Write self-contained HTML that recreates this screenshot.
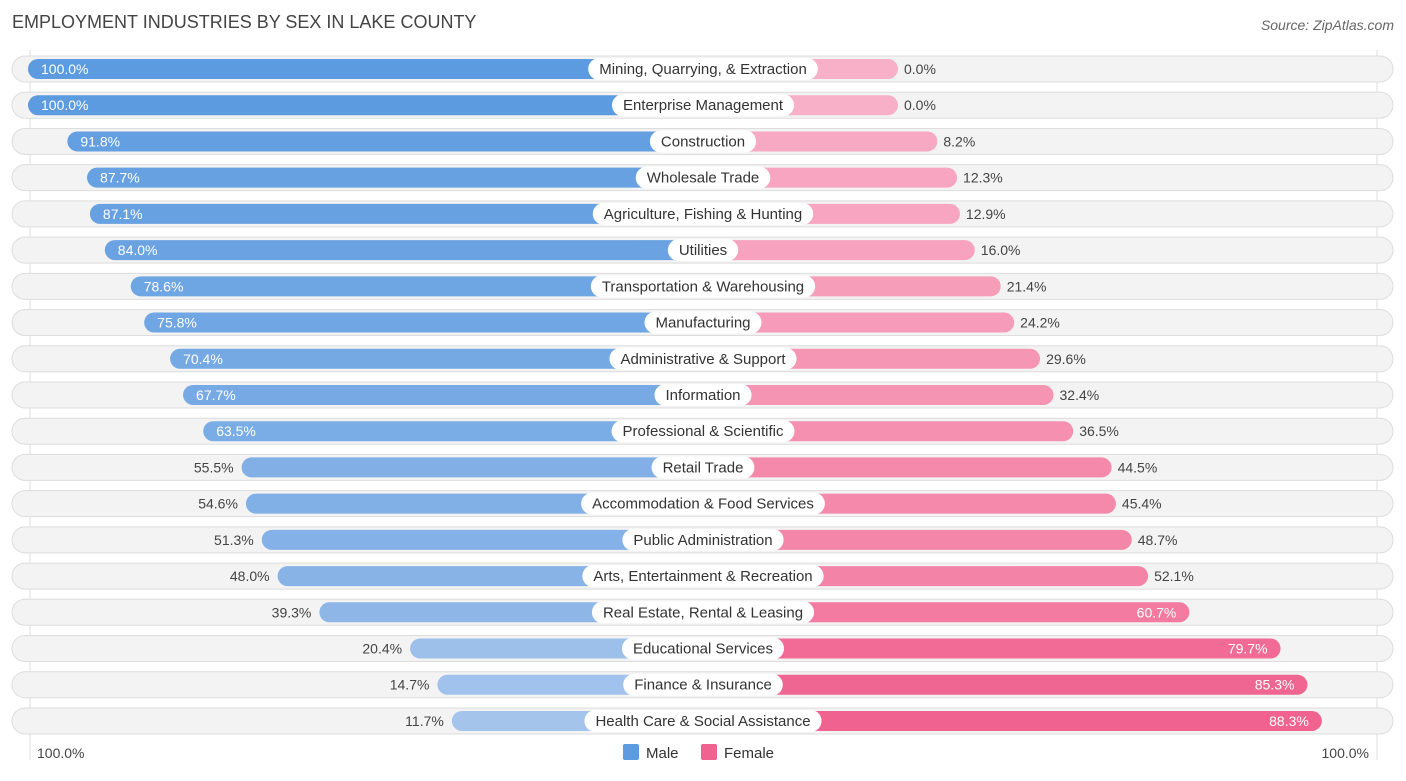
<!DOCTYPE html>
<html><head><meta charset="utf-8"><style>
body{margin:0;background:#fff;font-family:"Liberation Sans",sans-serif;}
svg text{font-family:"Liberation Sans",sans-serif;}
</style></head><body>
<svg id="c" width="1406" height="776">
<text x="12" y="28" font-size="18" fill="#444">EMPLOYMENT INDUSTRIES BY SEX IN LAKE COUNTY</text>
<text x="1394" y="30" font-size="14" fill="#666" font-style="italic" text-anchor="end">Source: ZipAtlas.com</text>
<line x1="30" y1="50" x2="30" y2="760" stroke="#ddd"/>
<line x1="1377" y1="50" x2="1377" y2="760" stroke="#ddd"/>
<g id="rows"></g>
<text x="37" y="758" font-size="14" fill="#444">100.0%</text>
<text x="1369" y="758" font-size="14" fill="#444" text-anchor="end">100.0%</text>
<rect x="623" y="744" width="16" height="16" rx="2" fill="#5d9be0"/>
<text x="646" y="758" font-size="15" fill="#333">Male</text>
<rect x="701" y="744" width="16" height="16" rx="2" fill="#f0628f"/>
<text x="724" y="758" font-size="15" fill="#333">Female</text>
</svg>
<script>
const categories=["Mining, Quarrying, & Extraction","Enterprise Management","Construction","Wholesale Trade","Agriculture, Fishing & Hunting","Utilities","Transportation & Warehousing","Manufacturing","Administrative & Support","Information","Professional & Scientific","Retail Trade","Accommodation & Food Services","Public Administration","Arts, Entertainment & Recreation","Real Estate, Rental & Leasing","Educational Services","Finance & Insurance","Health Care & Social Assistance"];
const maleValues=[100,100,91.8,87.7,87.1,84.0,78.6,75.8,70.4,67.7,63.5,55.5,54.6,51.3,48.0,39.3,20.4,14.7,11.7];
const femaleValues=[0,0,8.2,12.3,12.9,16.0,21.4,24.2,29.6,32.4,36.5,44.5,45.4,48.7,52.1,60.7,79.7,85.3,88.3];
const NS="http://www.w3.org/2000/svg";
const cx=703, off=195, sc=4.8, y0=69, dy=36.22;
const xMale=v=>cx-off-v*sc, xFem=v=>cx+off+v*sc, yRow=i=>y0+i*dy;
function mix(a,b,t){return "rgb("+a.map((x,k)=>Math.round(x+(b[k]-x)*t)).join(",")+")";}
const g=document.getElementById("rows");
function el(t,a){const e=document.createElementNS(NS,t);for(const k in a)e.setAttribute(k,a[k]);return e;}
categories.forEach((cat,i)=>{
  const y=yRow(i), m=maleValues[i], f=femaleValues[i];
  const row=el("g",{});
  
  
  const bg=el("rect",{x:12,y:y-13,width:1381,height:26,rx:13,fill:"#f3f3f3",stroke:"#ddd"});
  
  
  row.appendChild(bg);
  const mx=xMale(m);
  const mb=el("rect",{x:mx,y:y-10,width:cx-mx,height:20,rx:10,fill:mix([173,201,238],[93,155,224],m/100)});
  
  
  row.appendChild(mb);
  const fx=xFem(f);
  const fb=el("rect",{x:cx,y:y-10,width:fx-cx,height:20,rx:10,fill:mix([248,176,200],[240,98,143],f/90)});
  
  
  row.appendChild(fb);
  const mIn=m>=60, fIn=f>=60;
  const mt=el("text",{x:mIn?mx+13:mx-8,y:y+5,"font-size":14,fill:mIn?"#fff":"#444","text-anchor":mIn?"start":"end"});
  mt.textContent=m.toFixed(1)+"%";
  
  
  row.appendChild(mt);
  const ft=el("text",{x:fIn?fx-13:fx+6,y:y+5,"font-size":14,fill:fIn?"#fff":"#444","text-anchor":fIn?"end":"start"});
  ft.textContent=f.toFixed(1)+"%";
  
  
  row.appendChild(ft);
  const lt=el("text",{x:cx,y:y+5,"font-size":15,fill:"#333","text-anchor":"middle"});
  lt.textContent=cat;
  row.appendChild(lt);
  g.appendChild(row);
  const w=lt.getComputedTextLength()+22;
  const pill=el("rect",{x:cx-w/2,y:y-11,width:w,height:22,rx:11,fill:"#fff"});
  
  
  row.insertBefore(pill,lt);
  
  
});
</script>
</body></html>
